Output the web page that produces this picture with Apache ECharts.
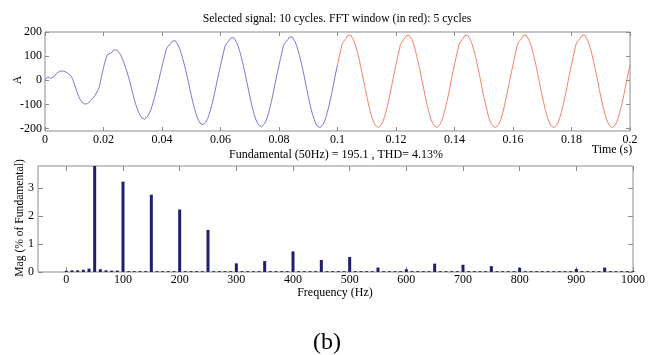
<!DOCTYPE html>
<html>
<head>
<meta charset="utf-8">
<script src="https://cdn.jsdelivr.net/npm/echarts@6/dist/echarts.min.js"></script>
<style>
  html, body { margin: 0; padding: 0; background: #ffffff; }
  #chart { width: 653px; height: 355px; }
</style>
</head>
<body>
<div id="chart"></div>
<script>
// ---- Time-domain current record (A), one sample every 0.5 ms ----
const SAMPLE_STEP = 0.0005;      // s
const WINDOW_START = 0.1;        // s, start of the FFT window

// Lead-in cycles, 0 .. 0.1 s
const signalLeadIn = [
  2, 8, 14, 17, 8, 5, 14, 22, 29, 34, 37, 39, 39, 38, 35, 31, 27, 23, 17, 3,
  -14, -32, -50, -66, -79, -89, -95, -98, -99, -97, -92, -86, -80, -73, -64, -54, -43, -30, -3, 25,
  52, 76, 96, 108, 107, 112, 119, 125, 127, 126, 120, 112, 101, 87, 72, 54, 36, 16, -5, -30,
  -54, -77, -99, -117, -133, -145, -154, -159, -161, -158, -151, -141, -127, -110, -90, -68, -45, -20, 5, 32,
  56, 82, 105, 130, 140, 141, 153, 162, 166, 164, 157, 146, 132, 114, 94, 71, 47, 21, -6, -35,
  -62, -88, -113, -134, -152, -166, -177, -182, -184, -180, -173, -162, -146, -126, -103, -78, -52, -23, 6, 34,
  61, 88, 114, 140, 152, 152, 165, 175, 179, 177, 170, 157, 142, 123, 101, 77, 50, 23, -6, -36,
  -65, -93, -118, -141, -160, -174, -185, -191, -193, -189, -181, -169, -153, -132, -108, -82, -54, -24, 6, 35,
  62, 90, 116, 143, 154, 155, 168, 178, 182, 180, 172, 160, 144, 125, 103, 78, 51, 23, -6, -37,
  -66, -94, -120, -143, -162, -177, -188, -194, -196, -192, -184, -172, -155, -134, -110, -83, -55, -24, 6, 36,
  64
];

// FFT window, 0.1 .. 0.2 s (5 cycles)
const signalWindow = [
  64, 93, 120, 148, 160, 161, 174, 185, 189, 187, 179, 166, 150, 130, 107, 81, 53, 24, -6, -37,
  -66, -94, -120, -143, -162, -177, -188, -194, -196, -192, -184, -172, -155, -134, -110, -83, -55, -24, 6, 36,
  64, 94, 121, 148, 159, 161, 175, 185, 189, 186, 179, 167, 150, 129, 106, 80, 53, 23, -7, -37,
  -66, -95, -121, -143, -162, -177, -188, -194, -196, -191, -184, -171, -155, -134, -109, -83, -55, -24, 7, 37,
  65, 93, 120, 147, 160, 160, 174, 185, 189, 187, 180, 166, 151, 130, 107, 81, 52, 24, -6, -38,
  -67, -94, -120, -144, -163, -178, -188, -194, -196, -192, -183, -172, -156, -134, -110, -82, -54, -24, 6, 36,
  64, 93, 121, 148, 160, 161, 174, 186, 189, 187, 179, 166, 150, 130, 107, 81, 53, 24, -6, -37,
  -66, -94, -120, -143, -162, -177, -188, -194, -196, -192, -184, -172, -155, -134, -110, -83, -55, -25, 6, 36,
  64, 93, 120, 148, 160, 161, 175, 185, 189, 187, 179, 166, 150, 130, 107, 81, 53, 24, -6, -37,
  -66, -94, -120, -143, -162, -177, -188, -194, -196, -192, -184, -172, -155, -134, -110, -83, -55, -24, 6, 35,
  63
];

const timeTicks = [0, 0.02, 0.04, 0.06, 0.08, 0.1, 0.12, 0.14, 0.16, 0.18, 0.2];
const currentTicks = [-200, -100, 0, 100, 200];

// ---- Spectrum, % of fundamental, one bin every 10 Hz (0 .. 1000 Hz) ----
const FFT_BIN = 10;              // Hz
const fftMagnitude = [
  0.04, 0.06, 0.06, 0.08, 0.12, 100,  0.10, 0.06, 0.05, 0.05,   //   0 -  90
  3.24, 0.03, 0.03, 0.03, 0.03, 2.77, 0.03, 0.03, 0.03, 0.03,   // 100 - 190
  2.24, 0.03, 0.03, 0.03, 0.03, 1.51, 0.03, 0.03, 0.03, 0.03,   // 200 - 290
  0.31, 0.03, 0.03, 0.03, 0.03, 0.39, 0.03, 0.03, 0.03, 0.03,   // 300 - 390
  0.74, 0.03, 0.03, 0.03, 0.03, 0.43, 0.03, 0.03, 0.03, 0.03,   // 400 - 490
  0.54, 0.03, 0.03, 0.03, 0.03, 0.16, 0.03, 0.03, 0.03, 0.03,   // 500 - 590
  0.10, 0.03, 0.03, 0.03, 0.03, 0.30, 0.03, 0.03, 0.03, 0.03,   // 600 - 690
  0.26, 0.03, 0.03, 0.03, 0.03, 0.21, 0.03, 0.03, 0.03, 0.03,   // 700 - 790
  0.15, 0.03, 0.03, 0.03, 0.03, 0.03, 0.03, 0.03, 0.03, 0.03,   // 800 - 890
  0.11, 0.03, 0.03, 0.03, 0.03, 0.16, 0.03, 0.03, 0.03, 0.03,   // 900 - 990
  0.03                                                          // 1000
];
const freqTicks = [0, 100, 200, 300, 400, 500, 600, 700, 800, 900, 1000];
const magTicks = [0, 1, 2, 3];

// ---- Drawing ----
const FONT = 'Liberation Serif';
const BOX = '#8c8c8c';
const INK = '#000000';

const leadInData = signalLeadIn.map((v, i) => [i * SAMPLE_STEP, v]);
const windowData = signalWindow.map((v, i) => [WINDOW_START + i * SAMPLE_STEP, v]);
const fftData = fftMagnitude.map((v, i) => [i * FFT_BIN, v]);

// Value axis drawn on one side of a boxed plot, with inward ticks
function boxAxis(grid, pos, min, max, ticks, tickLen, withLabels, labelMargin) {
  return {
    type: 'value',
    gridIndex: grid,
    position: pos,
    min: min,
    max: max,
    axisLine: { show: false, onZero: false },
    splitLine: { show: false },
    axisTick: {
      show: true, inside: true, length: tickLen, customValues: ticks,
      lineStyle: { color: BOX, width: 1 }
    },
    axisLabel: {
      show: withLabels, customValues: ticks, margin: labelMargin,
      color: INK, fontFamily: FONT, fontSize: 12,
      formatter: v => String(v)
    }
  };
}

function label(text, x, y, size, rotate) {
  return {
    type: 'text', x: x, y: y, rotation: rotate ? Math.PI / 2 : 0,
    style: {
      text: text, fill: INK, fontFamily: FONT, fontSize: size,
      align: 'center', verticalAlign: 'middle'
    }
  };
}

const chart = echarts.init(document.getElementById('chart'), null, { renderer: 'canvas' });

chart.setOption({
  animation: false,
  backgroundColor: '#ffffff',
  grid: [
    { left: 45, top: 32, width: 585, height: 99, show: true, borderColor: BOX, borderWidth: 1 },
    { left: 38, top: 166, width: 595, height: 106, show: true, borderColor: BOX, borderWidth: 1 }
  ],
  xAxis: [
    boxAxis(0, 'bottom', 0, 0.2, timeTicks, 4, true, 3),
    boxAxis(0, 'top', 0, 0.2, timeTicks, 4, false, 3),
    boxAxis(1, 'bottom', -50, 1000, freqTicks, 5, true, 2),
    boxAxis(1, 'top', -50, 1000, freqTicks, 5, false, 2)
  ],
  yAxis: [
    boxAxis(0, 'left', -210, 200, currentTicks, 4, true, 3),
    boxAxis(0, 'right', -210, 200, currentTicks, 4, false, 3),
    boxAxis(1, 'left', 0, 3.8, magTicks, 5, true, 4),
    boxAxis(1, 'right', 0, 3.8, magTicks, 5, false, 4)
  ],
  series: [
    {
      type: 'line', xAxisIndex: 0, yAxisIndex: 0, data: leadInData,
      showSymbol: false, smooth: false, clip: true,
      lineStyle: { color: '#7878d8', width: 1 }
    },
    {
      type: 'line', xAxisIndex: 0, yAxisIndex: 0, data: windowData,
      showSymbol: false, smooth: false, clip: true,
      lineStyle: { color: '#f28466', width: 1 }
    },
    {
      type: 'bar', xAxisIndex: 2, yAxisIndex: 2, data: fftData,
      barWidth: 3, clip: true,
      itemStyle: { color: '#1f1f6e' }
    }
  ],
  graphic: [
    label('Selected signal: 10 cycles. FFT window (in red): 5 cycles', 337, 19, 11.7, false),
    label('A', 18, 80, 12, true),
    label('Time (s)', 612, 150, 12, false),
    label('Fundamental (50Hz) = 195.1 , THD= 4.13%', 336, 155, 12, false),
    label('Mag (% of Fundamental)', 20, 218, 11.6, true),
    label('Frequency (Hz)', 335, 293, 12, false),
    label('(b)', 327, 343, 24, false)
  ]
});
</script>
</body>
</html>
